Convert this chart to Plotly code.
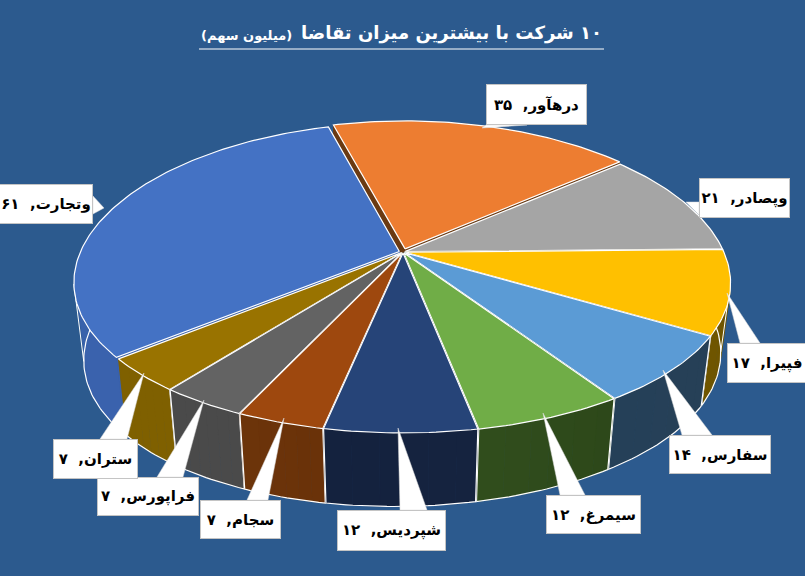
import math
import plotly.graph_objects as go

# ---- data (clockwise from the start angle) ----
names = ["وتجارت", "درهآور", "وپصادر", "فپیرا", "سفارس", "سیمرغ", "شپردیس", "سجام", "فراپورس", "ستران"]
values = [61, 35, 21, 17, 14, 12, 12, 7, 7, 7]
digits = ["۶۱", "۳۵", "۲۱", "۱۷", "۱۴", "۱۲", "۱۲", "۷", "۷", "۷"]
top_colors = ["#4472C4", "#ED7D31", "#A5A5A5", "#FFC000", "#5B9BD5", "#70AD47", "#264478", "#9E480E", "#636363", "#997300"]
side_a = ["#3A62AD", "#6B3A12", "#6A6A6A", "#6F5500", "#264057", "#2D481A", "#15233F", "#6A3209", "#4A4A4A", "#7F6000"]
side_b = ["#33609F", "#6B3A12", "#6A6A6A", "#6F5500", "#254058", "#314E1D", "#14223E", "#6C340A", "#4A4A4A", "#7F6000"]
explode = [0.012, 0.022, 0.006, 0.006, 0.006, 0.006, 0.006, 0.006, 0.006, 0.006]

# ---- label boxes: x0, x1, y0, y1 ----
boxes = [(-1, 93, 184, 224), (486, 587, 84, 125), (699, 790, 178, 218), (727, 807, 343, 383),
         (669, 771, 435, 474), (546, 641, 495, 534), (337, 446, 510, 551), (200, 281, 500, 539),
         (97, 199, 477, 516), (53, 138, 439, 479)]
wedges = [[(93, 196), (104, 208), (93, 214)], [(486, 125), (482, 128), (527, 125)],
          [(699, 202), (686, 202), (699, 215)], [(740, 343), (727, 293), (760, 343)],
          [(682, 435), (663, 370), (712, 435)], [(560, 495), (543, 413), (585, 495)],
          [(400, 510), (398, 428), (427, 510)], [(247, 500), (284, 418), (268, 500)],
          [(157, 477), (204, 400), (183, 477)], [(100, 439), (144, 373), (127, 439)]]

BG = "#2C5A8E"
START = 230.7
CX, CY, A, B, PX, PY = 403, 252, 319, 150, 0.2, 0.165
DEPTH, SHRINK, TILT = 73.5, 0.97, 0.012
STRIPS = 6


def project(X, Y, bottom=False):
    dx = A * X / (1 + PX * Y)
    dy = -B * Y / (1 + PY * Y)
    if bottom:
        return CX + SHRINK * dx, CY + DEPTH - TILT * dx + dy
    return CX + dx, CY + dy


def mix(c1, c2, t):
    a = [int(c1[i:i + 2], 16) for i in (1, 3, 5)]
    b = [int(c2[i:i + 2], 16) for i in (1, 3, 5)]
    return "#%02X%02X%02X" % tuple(round(u + (v - u) * t) for u, v in zip(a, b))


def poly(pts, fill, line=None, width=0):
    xs = [p[0] for p in pts] + [pts[0][0]]
    ys = [p[1] for p in pts] + [pts[0][1]]
    return go.Scatter(x=xs, y=ys, mode="lines", fill="toself", fillcolor=fill,
                      line=dict(color=line or fill, width=width if line else 0.6),
                      hoverinfo="skip")


def stroke(pts, width=1.2):
    return go.Scatter(x=[p[0] for p in pts], y=[p[1] for p in pts], mode="lines",
                      line=dict(color="white", width=width), hoverinfo="skip")


total = sum(values)
slices = []
ang = START
for i, v in enumerate(values):
    span = v / total * 360
    slices.append((i, ang, ang + span))
    ang += span

order = sorted(slices, key=lambda s: -math.cos(math.radians((s[1] + s[2]) / 2)))
traces = []
for i, a0, a1 in order:
    mid = math.radians((a0 + a1) / 2)
    ox, oy = explode[i] * math.sin(mid), explode[i] * math.cos(mid)

    def rim(deg, bottom=False):
        r = math.radians(deg)
        return project(ox + math.sin(r), oy + math.cos(r), bottom)

    apex_t, apex_b = project(ox, oy), project(ox, oy, True)
    n = max(6, int(a1 - a0))
    degs = [a0 + (a1 - a0) * k / n for k in range(n + 1)]
    # inner faces
    for e in (a0, a1):
        traces.append(poly([apex_t, rim(e), rim(e, True), apex_b], side_a[i]))
    # outer wall in a few strips for the shading
    for s in range(STRIPS):
        part = degs[s * n // STRIPS: (s + 1) * n // STRIPS + 1]
        traces.append(poly([rim(d) for d in part] + [rim(d, True) for d in reversed(part)],
                           mix(side_a[i], side_b[i], s / STRIPS)))
    # outline of the wall, only on the camera side of the pie
    # (no vertical line where the first and last slices meet)
    front = [d for d in degs if math.cos(math.radians(d)) < 0.05]
    if front:
        wall = [rim(d, True) for d in front]
        if i != 0 and front[0] == a0:
            wall = [rim(a0)] + wall
        if i != len(values) - 1 and front[-1] == a1:
            wall = wall + [rim(a1)]
        traces.append(stroke(wall))
    # silhouette lines where the wall turns away
    for extreme in (max, min):
        tp = extreme(degs, key=lambda d: rim(d)[0])
        bt = extreme(degs, key=lambda d: rim(d, True)[0])
        if degs[0] < tp < degs[-1] and degs[0] < bt < degs[-1]:
            traces.append(stroke([rim(tp), rim(bt, True)], 1))
    # top face
    traces.append(poly([apex_t] + [rim(d) for d in degs], top_colors[i], "white", 1.2))

shapes = [dict(type="path", xref="x", yref="y", layer="above", fillcolor="white",
               line=dict(color="#D8D8D8", width=0.5),
               path="M%d,%d L%d,%d L%d,%d Z" % (w[0] + w[1] + w[2])) for w in wedges]
shapes.append(dict(type="line", xref="x", yref="y", x0=199, x1=604, y0=49, y1=49,
                   layer="above", line=dict(color="white", width=1)))

annotations = []
for nm, dg, (x0, x1, y0, y1) in zip(names, digits, boxes):
    annotations.append(dict(x=(x0 + x1) / 2, y=(y0 + y1) / 2, xref="x", yref="y", showarrow=False,
                            text="<b>%s,\u00a0\u00a0%s</b>" % (nm, dg), width=x1 - x0 - 2, height=y1 - y0 - 2,
                            bgcolor="white", bordercolor="#C4C4C4", borderwidth=1, borderpad=0,
                            align="center", valign="middle",
                            font=dict(family="DejaVu Sans", size=15, color="black")))
annotations.append(dict(x=604, y=33, xref="x", yref="y", showarrow=False, xanchor="right",
                        text="<b>\u200f۱۰ شرکت با بیشترین میزان تقاضا</b>",
                        font=dict(family="DejaVu Sans", size=18, color="white")))
annotations.append(dict(x=199, y=35, xref="x", yref="y", showarrow=False, xanchor="left",
                        text="<b>(میلیون سهم)</b>",
                        font=dict(family="DejaVu Sans", size=13, color="white")))

fig = go.Figure(traces)
fig.update_layout(width=805, height=576, margin=dict(l=0, r=0, t=0, b=0), showlegend=False,
                  paper_bgcolor=BG, plot_bgcolor=BG, hovermode=False,
                  shapes=shapes, annotations=annotations,
                  xaxis=dict(range=[0, 805], visible=False, fixedrange=True),
                  yaxis=dict(range=[576, 0], visible=False, fixedrange=True))
fig.write_html("out.html", config={"displayModeBar": False},
               post_script="document.body.style.margin='0';document.body.style.overflow='hidden';document.body.style.background='%s';" % BG)
